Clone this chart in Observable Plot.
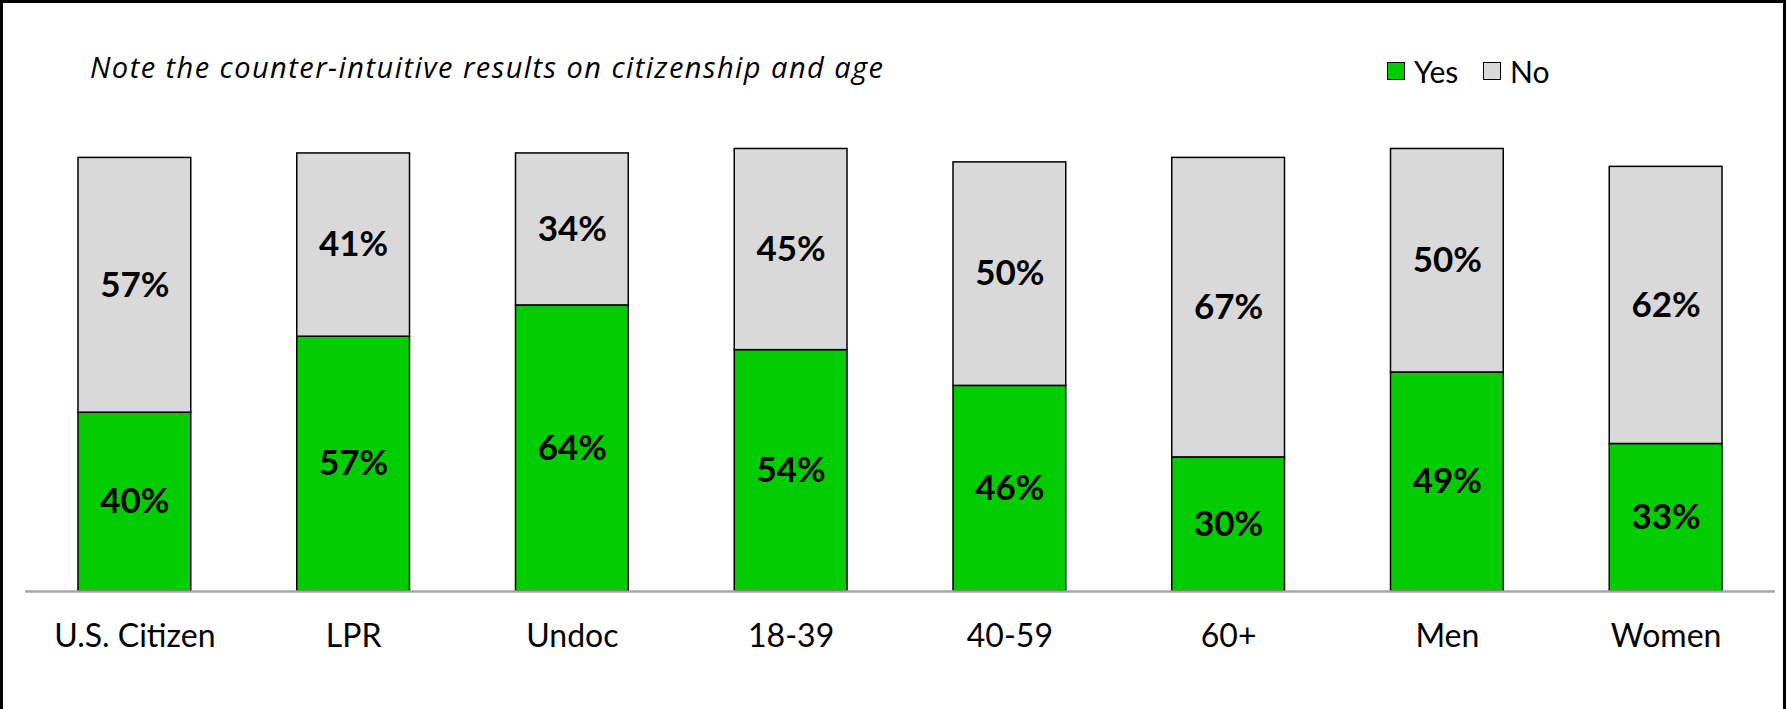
<!DOCTYPE html>
<html>
<head>
<meta charset="utf-8">
<script src="https://cdn.jsdelivr.net/npm/d3@7"></script>
<script src="https://cdn.jsdelivr.net/npm/@observablehq/plot@0.6"></script>
<style>
  html, body { margin: 0; padding: 0; background: #fff; }
  body { width: 1787px; height: 709px; overflow: hidden; font-family: Lato, "DejaVu Sans", sans-serif; }
  #wrap { position: relative; width: 1787px; height: 709px; }
  #frame { position: absolute; left: 0; top: 0; width: 1780px; height: 760px; border: 3px solid #000; pointer-events: none; }
  #header { position: relative; height: 100px; }
  #title { position: absolute; left: 90px; top: 50px; font-family: "Open Sans", Lato, sans-serif; font-size: 29px; letter-spacing: 1.45px; font-style: italic; line-height: 34px; color: #000; white-space: nowrap; }
  .leg { position: absolute; top: 56px; font-size: 30px; line-height: 30px; color: #000; white-space: nowrap; }
  .sw { position: absolute; top: 62px; width: 16px; height: 16px; border: 1.5px solid #000; }
</style>
</head>
<body>
<div id="wrap">
  <div id="header">
    <div id="title">Note the counter-intuitive results on citizenship and age</div>
  </div>
  <div id="chart"></div>
  <div id="frame"></div>
</div>
<script>
const categories = ["U.S. Citizen", "LPR", "Undoc", "18-39", "40-59", "60+", "Men", "Women"];
const series = ["Yes", "No"];
const yesValues = [40, 57, 64, 54, 46, 30, 49, 33];
const noValues = [57, 41, 34, 45, 50, 67, 50, 62];
const colors = ["#00CC00", "#D9D9D9"];

const data = [];
categories.forEach((c, i) => data.push({category: c, series: "Yes", value: yesValues[i]}));
categories.forEach((c, i) => data.push({category: c, series: "No", value: noValues[i]}));

// legend (HTML, above the SVG)
const header = document.getElementById("header");
const legPos = [{sw: 1387, tx: 1414}, {sw: 1483, tx: 1510}];
series.forEach((s, i) => {
  const sw = document.createElement("div");
  sw.className = "sw";
  sw.style.left = legPos[i].sw + "px";
  sw.style.background = colors[i];
  header.appendChild(sw);
  const t = document.createElement("div");
  t.className = "leg";
  t.style.left = legPos[i].tx + "px";
  t.textContent = s;
  header.appendChild(t);
});

const chart = Plot.plot({
  width: 1787,
  height: 609,
  marginLeft: 25,
  marginRight: 12,
  marginTop: 44,
  marginBottom: 118,
  style: {fontFamily: "Lato, 'DejaVu Sans', sans-serif", background: "transparent"},
  x: {domain: categories, padding: 0, round: false, label: null},
  y: {domain: [0, 100], axis: null},
  color: {domain: series, range: colors},
  marks: [
    Plot.barY(data, Plot.stackY({
      x: "category", y: "value", z: "series", fill: "series",
      stroke: "#000", strokeWidth: 1.5, insetLeft: 53, insetRight: 53
    })),
    Plot.text(data, Plot.stackY({
      x: "category", y: "value", z: "series",
      text: d => d.value + "%", fontSize: 35, fontWeight: "bold", fill: "#000"
    })),
    Plot.ruleY([0], {stroke: "#A6A6A6", strokeWidth: 2.5}),
    Plot.axisX({tickSize: 0, tickPadding: 33, fontSize: 32, fill: "#000", label: null})
  ]
});
document.getElementById("chart").appendChild(chart);
</script>
</body>
</html>
